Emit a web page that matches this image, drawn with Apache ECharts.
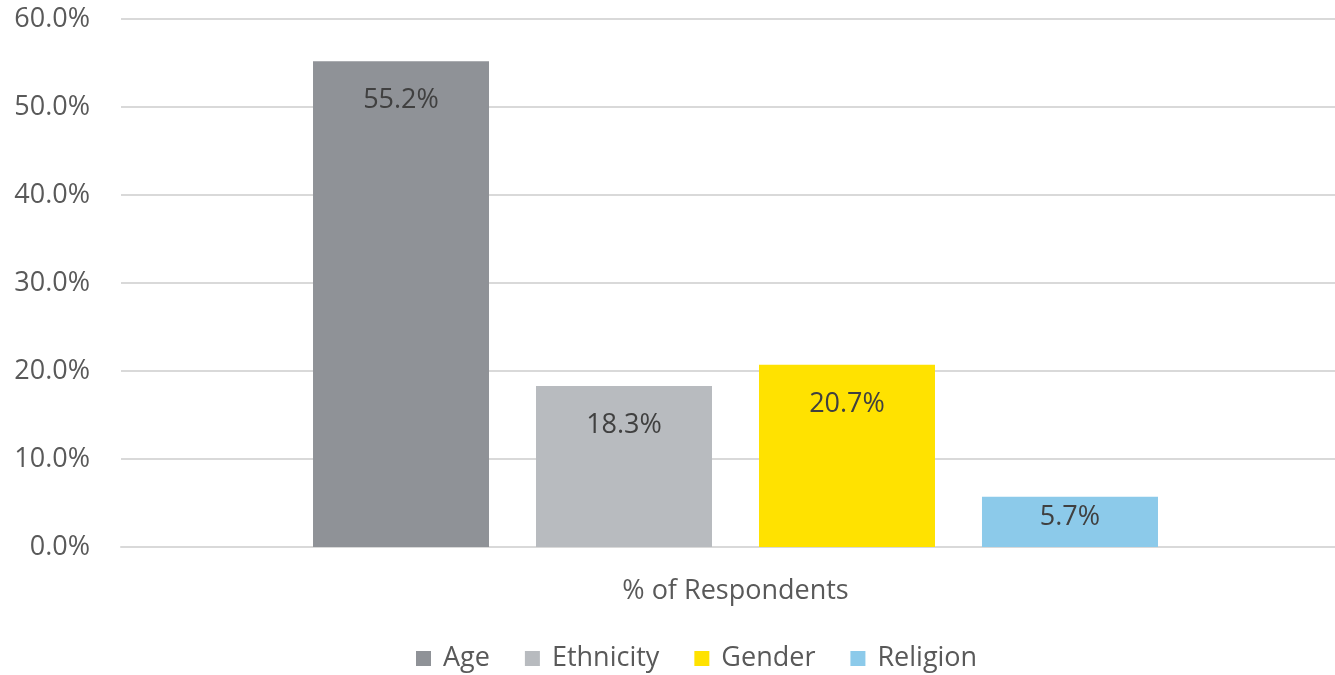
<!DOCTYPE html>
<html>
<head>
<meta charset="utf-8">
<script src="https://cdn.jsdelivr.net/npm/echarts@6/dist/echarts.min.js"></script>
<style>
  html, body { margin: 0; padding: 0; background: #ffffff; }
  #chart { width: 1335px; height: 675px; }
</style>
</head>
<body>
<div id="chart"></div>
<script>
// Survey breakdown: share of respondents per category
const categories = ['% of Respondents'];
const seriesNames = ['Age', 'Ethnicity', 'Gender', 'Religion'];
const seriesValues = [55.2, 18.3, 20.7, 5.7];
const seriesColors = ['#8f9297', '#b8bbbf', '#ffe200', '#8ccaea'];
const yTicks = { min: 0, max: 60, interval: 10 };

const FONT = '"Open Sans", "Liberation Sans", sans-serif';
const FS = 27;

const series = seriesNames.map((name, i) => ({
  name: name,
  type: 'bar',
  data: [seriesValues[i]],
  barWidth: 176,
  barGap: '26.7%',
  itemStyle: { color: seriesColors[i] },
  label: {
    show: true,
    position: seriesValues[i] < 8 ? 'inside' : 'insideTop',
    distance: 26,
    offset: seriesValues[i] < 8 ? [0, -5] : [0, 0],
    formatter: p => p.value.toFixed(1) + '%',
    color: '#404040',
    fontFamily: FONT,
    fontSize: FS
  }
}));

const chart = echarts.init(document.getElementById('chart'), null, { renderer: 'canvas' });
chart.setOption({
  animation: false,
  backgroundColor: '#ffffff',
  grid: { left: 121, width: 1229, top: 19, bottom: 128, containLabel: false, outerBoundsMode: 'none' },
  legend: {
    left: 411,
    top: 640,
    itemWidth: 15,
    itemHeight: 15,
    itemGap: 35,
    icon: 'rect',
    textStyle: { color: '#595959', fontFamily: FONT, fontSize: FS, padding: [0, 0, 0, 7] },
    data: seriesNames
  },
  xAxis: {
    type: 'category',
    data: categories,
    axisLine: { show: true, lineStyle: { color: '#d9d9d9', width: 2 } },
    axisTick: { show: false },
    axisLabel: { color: '#595959', fontFamily: FONT, fontSize: FS, margin: 31 }
  },
  yAxis: {
    type: 'value',
    min: yTicks.min,
    max: yTicks.max,
    interval: yTicks.interval,
    axisLine: { show: false },
    axisTick: { show: false },
    splitLine: { lineStyle: { color: '#d9d9d9', width: 2 } },
    axisLabel: {
      color: '#595959',
      fontFamily: FONT,
      fontSize: FS,
      margin: 31,
      padding: [8, 0, 0, 0],
      formatter: v => v.toFixed(1) + '%'
    }
  },
  series: series
});
</script>
</body>
</html>
